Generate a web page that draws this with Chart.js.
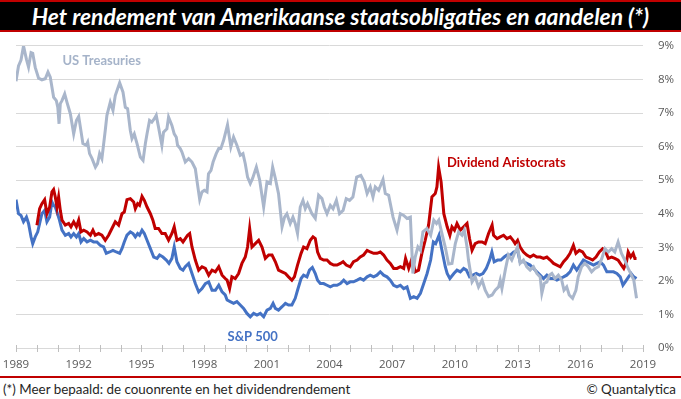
<!DOCTYPE html>
<html>
<head>
<meta charset="utf-8">
<script src="https://cdn.jsdelivr.net/npm/chart.js@4.4.0/dist/chart.umd.min.js"></script>
<style>
    body { margin: 0; width: 681px; height: 399px; background: #fff; position: relative; overflow: hidden; }
    #title {
        position: absolute; left: 0; top: 0; width: 681px; height: 28px;
        background: #000; border-top: 2px solid #c00000; border-bottom: 2px solid #c00000;
        color: #fff; font: italic bold 22.8px Lato, sans-serif; text-align: center; line-height: 28px;
    }
    #wrap { position: absolute; left: 0; top: 24px; width: 681px; height: 352px; }
    #footLine { position: absolute; left: 0; top: 376px; width: 681px; height: 2px; background: #c00000; }
    .foot { position: absolute; top: 381px; font: 13.4px Lato, sans-serif; color: #262626; }
</style>
</head>
<body>
<div id="title">Het rendement van Amerikaanse staatsobligaties en aandelen (*)</div>
<div id="wrap"><canvas id="chart" width="681" height="352"></canvas></div>
<div id="footLine"></div>
<div class="foot" style="left:3px">(*) Meer bepaald: de couonrente en het dividendrendement</div>
<div class="foot" style="right:5px">© Quantalytica</div>
<script>
// US Treasuries (coupon yield, %)
const tsyYears = [1989.0,1989.12,1989.24,1989.36,1989.5,1989.6,1989.72,1989.8,1989.92,1990.08,1990.24,1990.4,1990.53,1990.64,1990.8,1990.93,1991.0,1991.06,1991.12,1991.2,1991.33,1991.44,1991.6,1991.76,1991.89,1992.0,1992.08,1992.2,1992.36,1992.43,1992.52,1992.64,1992.8,1992.9,1993.0,1993.11,1993.27,1993.35,1993.51,1993.64,1993.75,1993.96,1994.12,1994.23,1994.34,1994.47,1994.55,1994.66,1994.79,1994.95,1995.08,1995.19,1995.27,1995.39,1995.5,1995.62,1995.71,1995.82,1995.98,1996.06,1996.22,1996.3,1996.46,1996.57,1996.67,1996.73,1996.86,1996.94,1997.1,1997.26,1997.42,1997.58,1997.69,1997.79,1997.9,1998.01,1998.14,1998.21,1998.33,1998.43,1998.58,1998.7,1998.8,1998.93,1999.12,1999.28,1999.41,1999.57,1999.73,1999.86,1999.97,2000.08,2000.21,2000.32,2000.5,2000.66,2000.85,2001.01,2001.17,2001.28,2001.41,2001.56,2001.73,2001.85,2001.96,2002.12,2002.25,2002.36,2002.47,2002.6,2002.73,2002.84,2002.95,2003.16,2003.32,2003.48,2003.64,2003.75,2003.88,2004.04,2004.17,2004.33,2004.48,2004.65,2004.8,2004.96,2005.12,2005.3,2005.5,2005.66,2005.8,2005.95,2006.08,2006.19,2006.35,2006.56,2006.67,2006.83,2007.04,2007.23,2007.39,2007.55,2007.71,2007.87,2007.99,2008.1,2008.23,2008.35,2008.47,2008.66,2008.84,2008.99,2009.12,2009.23,2009.38,2009.54,2009.7,2009.86,2010.02,2010.18,2010.34,2010.45,2010.58,2010.65,2010.82,2010.97,2011.13,2011.3,2011.45,2011.61,2011.78,2011.93,2012.09,2012.17,2012.25,2012.41,2012.56,2012.72,2012.88,2013.0,2013.12,2013.28,2013.44,2013.6,2013.76,2013.92,2014.08,2014.16,2014.27,2014.4,2014.52,2014.64,2014.79,2014.95,2015.11,2015.22,2015.35,2015.47,2015.63,2015.79,2015.9,2016.06,2016.22,2016.38,2016.54,2016.7,2016.87,2017.03,2017.18,2017.34,2017.5,2017.65,2017.81,2017.97,2018.13,2018.29,2018.45,2018.56,2018.69];
const tsyYield = [7.95,8.4,8.58,9.0,8.6,8.37,8.8,8.78,8.36,8.04,7.99,8.02,8.22,8.07,7.47,7.37,7.17,6.68,7.28,7.37,7.57,7.32,6.98,6.38,6.78,6.9,6.58,6.09,6.04,6.13,5.79,5.64,5.39,5.49,5.79,5.64,6.48,6.93,7.32,7.08,7.52,7.9,7.62,7.17,7.13,6.48,6.24,6.38,6.09,5.69,5.59,6.09,6.38,6.78,6.73,6.83,6.93,6.58,6.04,6.43,6.53,6.88,6.63,6.38,6.28,6.04,5.94,5.84,5.54,5.64,5.54,5.34,4.85,4.42,4.65,4.7,4.65,5.19,5.29,5.54,5.79,5.94,5.94,6.18,6.65,5.99,6.28,6.04,5.74,5.79,5.49,5.09,4.9,5.05,5.39,5.0,4.2,4.95,4.9,5.39,5.05,4.6,3.61,3.9,4.0,3.71,3.9,3.71,3.41,4.2,4.4,4.15,4.3,4.0,3.86,4.55,4.45,4.2,4.0,4.25,4.15,4.4,4.0,4.1,4.45,4.4,4.5,5.09,5.14,4.95,4.6,4.8,4.5,4.8,4.7,5.02,4.6,4.55,3.9,3.51,4.0,3.95,3.86,3.9,2.22,2.71,3.01,2.91,3.46,3.56,3.36,3.81,3.71,3.81,3.41,3.0,2.5,2.52,3.11,3.46,3.36,3.51,3.01,2.62,1.97,2.12,1.82,2.02,1.72,1.53,1.58,1.72,1.82,2.02,1.77,2.32,2.77,2.62,2.86,3.01,2.52,2.62,2.42,2.32,2.42,2.22,2.12,1.63,1.92,1.97,2.17,2.22,2.07,2.17,2.02,1.72,1.82,1.58,1.48,1.72,2.12,2.42,2.52,2.42,2.27,2.37,2.42,2.67,2.96,2.86,2.96,2.86,3.16,2.82,2.62,2.37,2.17,2.02,1.48];

// Dividend Aristocrats (dividend yield, %)
const divYears = [1990.0,1990.13,1990.24,1990.37,1990.48,1990.61,1990.72,1990.8,1990.88,1990.96,1991.04,1991.12,1991.2,1991.36,1991.52,1991.63,1991.76,1991.89,1992.0,1992.11,1992.24,1992.4,1992.56,1992.68,1992.79,1992.95,1993.11,1993.27,1993.43,1993.59,1993.75,1993.91,1994.07,1994.18,1994.31,1994.47,1994.63,1994.71,1994.82,1994.91,1995.03,1995.14,1995.27,1995.43,1995.55,1995.66,1995.82,1995.98,1996.14,1996.3,1996.46,1996.57,1996.7,1996.86,1996.99,1997.1,1997.21,1997.31,1997.42,1997.58,1997.74,1997.9,1998.06,1998.22,1998.38,1998.54,1998.7,1998.86,1999.01,1999.1,1999.22,1999.33,1999.49,1999.65,1999.81,1999.97,2000.08,2000.18,2000.29,2000.45,2000.61,2000.77,2000.93,2001.09,2001.25,2001.41,2001.56,2001.73,2001.89,2002.04,2002.2,2002.32,2002.47,2002.64,2002.76,2002.92,2003.08,2003.21,2003.32,2003.43,2003.56,2003.72,2003.88,2004.04,2004.2,2004.36,2004.52,2004.65,2004.8,2004.99,2005.15,2005.32,2005.47,2005.63,2005.8,2005.95,2006.11,2006.27,2006.43,2006.59,2006.75,2006.91,2007.07,2007.23,2007.39,2007.55,2007.64,2007.79,2007.95,2008.1,2008.26,2008.42,2008.58,2008.74,2008.9,2009.06,2009.14,2009.22,2009.34,2009.47,2009.63,2009.76,2009.86,2009.98,2010.1,2010.26,2010.42,2010.58,2010.7,2010.82,2010.97,2011.13,2011.3,2011.45,2011.61,2011.78,2011.85,2012.02,2012.17,2012.33,2012.49,2012.65,2012.78,2012.88,2013.0,2013.12,2013.28,2013.44,2013.6,2013.76,2013.92,2014.08,2014.24,2014.4,2014.56,2014.72,2014.88,2015.04,2015.2,2015.35,2015.51,2015.67,2015.79,2015.95,2016.11,2016.27,2016.43,2016.59,2016.75,2016.91,2017.07,2017.18,2017.34,2017.5,2017.65,2017.81,2017.97,2018.08,2018.21,2018.29,2018.41,2018.53,2018.61,2018.69];
const divYield = [3.66,4.15,4.3,4.42,4.0,4.2,4.65,4.72,4.5,4.2,4.5,4.1,3.81,3.66,3.71,3.61,3.76,3.61,3.81,3.46,3.51,3.46,3.36,3.51,3.36,3.41,3.36,3.21,3.36,3.56,3.76,3.66,4.0,4.05,4.42,4.45,4.35,4.15,4.3,4.25,4.52,4.4,4.2,4.0,3.81,3.56,3.56,3.41,3.41,3.21,3.41,3.61,3.21,3.26,3.16,3.26,3.36,3.41,3.01,2.62,2.32,2.42,2.37,2.17,2.32,2.27,2.42,2.17,2.07,2.02,1.77,2.12,2.07,2.22,2.52,2.71,3.01,3.56,3.01,3.11,3.21,3.01,2.67,2.77,2.77,2.57,2.32,2.27,2.22,2.12,2.02,2.12,2.47,2.82,3.01,2.96,3.21,3.31,3.26,2.86,2.67,2.62,2.62,2.52,2.47,2.47,2.52,2.57,2.47,2.42,2.57,2.62,2.71,2.77,2.91,2.86,2.82,2.82,2.86,2.77,2.62,2.52,2.37,2.37,2.42,2.37,2.67,2.37,2.67,2.27,2.32,2.82,3.21,3.66,4.5,4.6,4.8,5.39,4.95,4.0,3.61,3.36,3.61,3.51,3.71,3.51,3.61,3.71,3.26,2.91,3.11,3.16,3.16,3.11,3.41,3.66,3.36,3.26,3.31,3.36,3.26,3.31,3.21,3.11,3.21,3.01,2.86,2.77,2.71,2.77,2.71,2.71,2.67,2.71,2.62,2.52,2.47,2.42,2.57,2.67,2.82,3.06,2.82,2.91,2.86,2.71,2.67,2.62,2.71,2.86,2.96,2.91,2.67,2.71,2.67,2.62,2.47,2.37,2.57,2.86,2.71,2.82,2.67,2.67];

// S&P 500 (dividend yield, %)
const spxYears = [1989.0,1989.12,1989.24,1989.36,1989.5,1989.6,1989.72,1989.8,1989.92,1990.04,1990.13,1990.24,1990.37,1990.48,1990.61,1990.72,1990.8,1990.88,1990.96,1991.08,1991.2,1991.36,1991.52,1991.63,1991.76,1991.89,1992.0,1992.11,1992.24,1992.4,1992.56,1992.71,1992.87,1993.03,1993.19,1993.32,1993.48,1993.64,1993.8,1993.96,1994.07,1994.18,1994.31,1994.47,1994.6,1994.71,1994.82,1994.91,1995.03,1995.14,1995.27,1995.43,1995.59,1995.75,1995.87,1996.03,1996.19,1996.32,1996.46,1996.57,1996.7,1996.86,1996.99,1997.1,1997.26,1997.42,1997.58,1997.74,1997.9,1998.06,1998.22,1998.38,1998.54,1998.7,1998.86,1999.01,1999.1,1999.25,1999.41,1999.57,1999.73,1999.89,2000.05,2000.21,2000.37,2000.53,2000.69,2000.85,2001.01,2001.17,2001.3,2001.41,2001.56,2001.73,2001.89,2002.04,2002.2,2002.36,2002.47,2002.64,2002.76,2002.92,2003.04,2003.18,2003.32,2003.43,2003.56,2003.72,2003.88,2004.04,2004.2,2004.36,2004.52,2004.68,2004.84,2004.99,2005.15,2005.32,2005.47,2005.63,2005.8,2005.95,2006.11,2006.27,2006.43,2006.59,2006.75,2006.91,2007.07,2007.23,2007.39,2007.55,2007.71,2007.87,2008.03,2008.19,2008.35,2008.51,2008.67,2008.84,2008.97,2009.08,2009.24,2009.38,2009.54,2009.63,2009.76,2009.95,2010.1,2010.26,2010.42,2010.55,2010.7,2010.86,2011.02,2011.18,2011.34,2011.5,2011.66,2011.77,2011.88,2012.04,2012.2,2012.36,2012.49,2012.65,2012.81,2013.0,2013.12,2013.28,2013.44,2013.6,2013.76,2013.92,2014.08,2014.24,2014.4,2014.56,2014.72,2014.88,2015.04,2015.2,2015.35,2015.51,2015.67,2015.83,2015.99,2016.15,2016.31,2016.47,2016.63,2016.79,2016.95,2017.11,2017.27,2017.43,2017.59,2017.75,2017.91,2018.04,2018.15,2018.31,2018.43,2018.56,2018.69];
const spxYield = [4.42,4.0,3.95,3.76,3.9,3.71,3.31,3.11,3.31,3.46,3.71,4.0,4.1,3.76,3.9,4.35,4.25,4.2,4.05,3.81,3.51,3.36,3.41,3.31,3.41,3.31,3.41,3.16,3.26,3.16,3.21,3.16,3.16,3.06,3.01,2.82,2.86,2.91,2.86,2.82,2.96,3.16,3.36,3.46,3.41,3.31,3.41,3.36,3.51,3.41,3.21,2.96,2.71,2.67,2.77,2.71,2.62,2.52,2.67,3.01,2.57,2.37,2.32,2.42,2.52,2.22,1.92,1.67,1.77,1.92,1.97,1.72,1.72,1.87,1.67,1.58,1.43,1.38,1.33,1.38,1.28,1.18,1.03,0.93,1.03,0.98,1.03,0.93,1.13,1.18,1.33,1.18,1.13,1.23,1.33,1.28,1.28,1.48,1.72,2.07,2.17,2.12,2.32,2.4,2.22,2.02,1.92,1.92,1.87,1.82,1.87,1.87,1.92,2.02,1.92,1.97,1.97,2.02,2.07,2.02,2.12,2.17,2.12,2.17,2.27,2.17,2.12,2.02,1.87,1.82,1.87,1.77,1.82,1.48,1.53,1.48,1.63,1.92,2.22,2.62,3.16,3.11,3.36,2.91,2.42,2.22,2.07,2.22,2.32,2.27,2.37,2.32,2.12,2.17,2.22,2.17,2.22,2.37,2.62,2.86,2.57,2.62,2.62,2.71,2.77,2.77,2.86,2.9,2.57,2.57,2.52,2.47,2.37,2.27,2.17,2.07,2.17,2.07,2.07,2.02,2.07,2.12,2.17,2.27,2.47,2.32,2.47,2.62,2.57,2.52,2.47,2.52,2.57,2.47,2.27,2.27,2.27,2.22,2.12,1.87,1.97,2.12,2.22,2.12,2.07];

// axis
const yearTicks = [1989, 2019];
const percentTicks = [0, 9];

function toPoints(xs, ys) {
    return xs.map(function (x, i) { return { x: x, y: ys[i] }; });
}

// tick marks crossing the 0% line, one per year
const yearTickPlugin = {
    id: 'yearTicks',
    beforeDatasetsDraw(chart) {
        const ctx = chart.ctx;
        const x = chart.scales.x;
        const y0 = chart.scales.y.getPixelForValue(0);
        ctx.save();
        ctx.strokeStyle = '#bfbfbf';
        ctx.lineWidth = 1;
        for (let yr = yearTicks[0]; yr <= yearTicks[1]; yr++) {
            const px = Math.round(x.getPixelForValue(yr)) + 0.5;
            ctx.beginPath();
            ctx.moveTo(px, y0 - 3);
            ctx.lineTo(px, y0 + 4);
            ctx.stroke();
        }
        ctx.restore();
    }
};

// series names written next to the lines
const seriesLabels = [
    { text: 'US Treasuries', x: 1991.22, y: 8.56, color: '#a5b3c9' },
    { text: 'Dividend Aristocrats', x: 2009.62, y: 5.53, color: '#c00000' },
    { text: 'S&P 500', x: 1999.12, y: 0.33, color: '#4472c4' },
];

const labelPlugin = {
    id: 'seriesLabels',
    afterDatasetsDraw(chart) {
        const ctx = chart.ctx;
        ctx.save();
        ctx.font = 'bold 13px Lato, sans-serif';
        ctx.textBaseline = 'middle';
        ctx.textAlign = 'left';
        seriesLabels.forEach(function (l) {
            ctx.fillStyle = l.color;
            ctx.fillText(l.text, chart.scales.x.getPixelForValue(l.x), chart.scales.y.getPixelForValue(l.y));
        });
        ctx.restore();
    }
};

const ctx = document.getElementById('chart').getContext('2d');
new Chart(ctx, {
    type: 'line',
    data: {
        datasets: [
            {
                label: 'US Treasuries',
                data: toPoints(tsyYears, tsyYield),
                borderColor: '#a9b6cb',
                borderWidth: 3,
                pointRadius: 0,
                fill: false,
            },
            {
                label: 'Dividend Aristocrats',
                data: toPoints(divYears, divYield),
                borderColor: '#c00000',
                borderWidth: 3,
                pointRadius: 0,
                fill: false,
            },
            {
                label: 'S&P 500',
                data: toPoints(spxYears, spxYield),
                borderColor: '#4472c4',
                borderWidth: 3,
                pointRadius: 0,
                fill: false,
            },
        ],
    },
    options: {
        responsive: false,
        animation: false,
        devicePixelRatio: 1,
        layout: { padding: { left: 16, right: 0, top: 5, bottom: 0 } },
        plugins: {
            legend: { display: false },
            tooltip: { enabled: false },
        },
        scales: {
            x: {
                type: 'linear',
                min: yearTicks[0],
                max: yearTicks[1],
                grid: { display: false, drawTicks: false },
                border: { display: false },
                ticks: {
                    stepSize: 3,
                    padding: 10,
                    color: '#595959',
                    font: { family: 'Open Sans', size: 11.5 },
                    callback: function (v) { return String(v); },
                },
                afterFit: function (scale) {
                    scale.height = 28;
                    scale.paddingLeft = 0;
                    scale.paddingRight = 0;
                },
            },
            y: {
                position: 'right',
                min: percentTicks[0],
                max: percentTicks[1],
                grid: { color: '#d9d9d9', drawTicks: false },
                border: { display: false },
                ticks: {
                    stepSize: 1,
                    padding: 15,
                    color: '#595959',
                    font: { family: 'Open Sans', size: 11.5 },
                    callback: function (v) { return v + '%'; },
                },
                afterFit: function (scale) { scale.width = 38; },
            },
        },
    },
    plugins: [yearTickPlugin, labelPlugin],
});
</script>
</body>
</html>
